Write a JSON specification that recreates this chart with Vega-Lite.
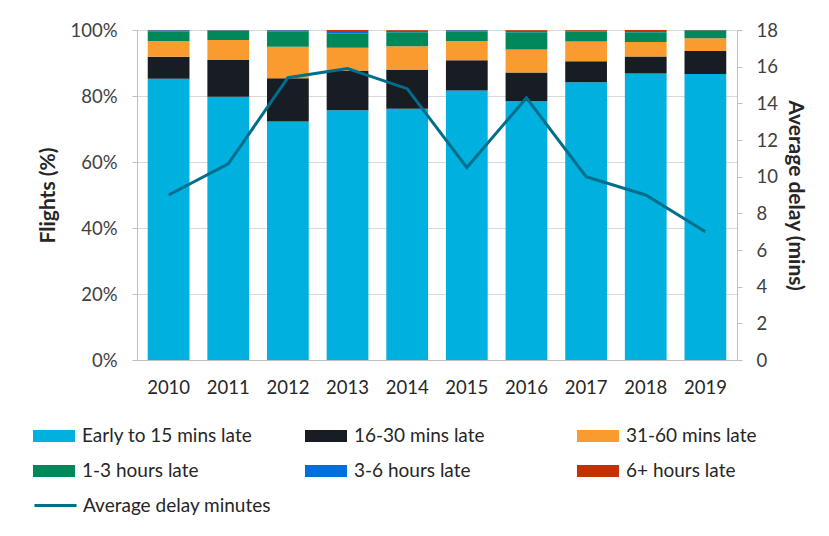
{
  "$schema": "https://vega.github.io/schema/vega-lite/v6.json",
  "width": 600,
  "height": 330,
  "autosize": "none",
  "padding": {"left": 137, "top": 30, "right": 92, "bottom": 176},
  "background": "white",
  "config": {
    "font": "Lato",
    "view": {"stroke": null},
    "axis": {
      "labelFont": "Lato",
      "labelFontSize": 18.5,
      "labelColor": "#404040",
      "titleFont": "Lato",
      "titleFontSize": 21,
      "titleFontWeight": "bold",
      "titleColor": "#262626",
      "domainColor": "#bfbfbf",
      "tickColor": "#bfbfbf",
      "gridColor": "#d9d9d9"
    }
  },
  "datasets": {
    "bars": [
      {"year": "2010", "cat": "Early to 15 mins late", "ord": 1, "pct": 85.2},
      {"year": "2010", "cat": "16-30 mins late", "ord": 2, "pct": 6.7},
      {"year": "2010", "cat": "31-60 mins late", "ord": 3, "pct": 4.8},
      {"year": "2010", "cat": "1-3 hours late", "ord": 4, "pct": 2.9},
      {"year": "2010", "cat": "3-6 hours late", "ord": 5, "pct": 0.3},
      {"year": "2010", "cat": "6+ hours late", "ord": 6, "pct": 0.1},
      {"year": "2011", "cat": "Early to 15 mins late", "ord": 1, "pct": 79.8},
      {"year": "2011", "cat": "16-30 mins late", "ord": 2, "pct": 11.1},
      {"year": "2011", "cat": "31-60 mins late", "ord": 3, "pct": 6.1},
      {"year": "2011", "cat": "1-3 hours late", "ord": 4, "pct": 2.8},
      {"year": "2011", "cat": "3-6 hours late", "ord": 5, "pct": 0.1},
      {"year": "2011", "cat": "6+ hours late", "ord": 6, "pct": 0.1},
      {"year": "2012", "cat": "Early to 15 mins late", "ord": 1, "pct": 72.3},
      {"year": "2012", "cat": "16-30 mins late", "ord": 2, "pct": 13.1},
      {"year": "2012", "cat": "31-60 mins late", "ord": 3, "pct": 9.5},
      {"year": "2012", "cat": "1-3 hours late", "ord": 4, "pct": 4.7},
      {"year": "2012", "cat": "3-6 hours late", "ord": 5, "pct": 0.3},
      {"year": "2012", "cat": "6+ hours late", "ord": 6, "pct": 0.1},
      {"year": "2013", "cat": "Early to 15 mins late", "ord": 1, "pct": 75.7},
      {"year": "2013", "cat": "16-30 mins late", "ord": 2, "pct": 11.9},
      {"year": "2013", "cat": "31-60 mins late", "ord": 3, "pct": 7.0},
      {"year": "2013", "cat": "1-3 hours late", "ord": 4, "pct": 4.4},
      {"year": "2013", "cat": "3-6 hours late", "ord": 5, "pct": 0.7},
      {"year": "2013", "cat": "6+ hours late", "ord": 6, "pct": 0.3},
      {"year": "2014", "cat": "Early to 15 mins late", "ord": 1, "pct": 76.1},
      {"year": "2014", "cat": "16-30 mins late", "ord": 2, "pct": 11.8},
      {"year": "2014", "cat": "31-60 mins late", "ord": 3, "pct": 7.2},
      {"year": "2014", "cat": "1-3 hours late", "ord": 4, "pct": 4.2},
      {"year": "2014", "cat": "3-6 hours late", "ord": 5, "pct": 0.5},
      {"year": "2014", "cat": "6+ hours late", "ord": 6, "pct": 0.2},
      {"year": "2015", "cat": "Early to 15 mins late", "ord": 1, "pct": 81.7},
      {"year": "2015", "cat": "16-30 mins late", "ord": 2, "pct": 9.1},
      {"year": "2015", "cat": "31-60 mins late", "ord": 3, "pct": 5.9},
      {"year": "2015", "cat": "1-3 hours late", "ord": 4, "pct": 2.9},
      {"year": "2015", "cat": "3-6 hours late", "ord": 5, "pct": 0.3},
      {"year": "2015", "cat": "6+ hours late", "ord": 6, "pct": 0.1},
      {"year": "2016", "cat": "Early to 15 mins late", "ord": 1, "pct": 78.4},
      {"year": "2016", "cat": "16-30 mins late", "ord": 2, "pct": 8.7},
      {"year": "2016", "cat": "31-60 mins late", "ord": 3, "pct": 7.0},
      {"year": "2016", "cat": "1-3 hours late", "ord": 4, "pct": 5.2},
      {"year": "2016", "cat": "3-6 hours late", "ord": 5, "pct": 0.5},
      {"year": "2016", "cat": "6+ hours late", "ord": 6, "pct": 0.2},
      {"year": "2017", "cat": "Early to 15 mins late", "ord": 1, "pct": 84.2},
      {"year": "2017", "cat": "16-30 mins late", "ord": 2, "pct": 6.3},
      {"year": "2017", "cat": "31-60 mins late", "ord": 3, "pct": 6.0},
      {"year": "2017", "cat": "1-3 hours late", "ord": 4, "pct": 3.0},
      {"year": "2017", "cat": "3-6 hours late", "ord": 5, "pct": 0.3},
      {"year": "2017", "cat": "6+ hours late", "ord": 6, "pct": 0.2},
      {"year": "2018", "cat": "Early to 15 mins late", "ord": 1, "pct": 86.8},
      {"year": "2018", "cat": "16-30 mins late", "ord": 2, "pct": 5.2},
      {"year": "2018", "cat": "31-60 mins late", "ord": 3, "pct": 4.4},
      {"year": "2018", "cat": "1-3 hours late", "ord": 4, "pct": 2.9},
      {"year": "2018", "cat": "3-6 hours late", "ord": 5, "pct": 0.4},
      {"year": "2018", "cat": "6+ hours late", "ord": 6, "pct": 0.3},
      {"year": "2019", "cat": "Early to 15 mins late", "ord": 1, "pct": 86.7},
      {"year": "2019", "cat": "16-30 mins late", "ord": 2, "pct": 6.9},
      {"year": "2019", "cat": "31-60 mins late", "ord": 3, "pct": 3.9},
      {"year": "2019", "cat": "1-3 hours late", "ord": 4, "pct": 2.4},
      {"year": "2019", "cat": "3-6 hours late", "ord": 5, "pct": 0.05},
      {"year": "2019", "cat": "6+ hours late", "ord": 6, "pct": 0.05}
    ],
    "delay": [
      {"year": "2010", "series": "Average delay minutes", "mins": 9.0},
      {"year": "2011", "series": "Average delay minutes", "mins": 10.7},
      {"year": "2012", "series": "Average delay minutes", "mins": 15.4},
      {"year": "2013", "series": "Average delay minutes", "mins": 15.9},
      {"year": "2014", "series": "Average delay minutes", "mins": 14.8},
      {"year": "2015", "series": "Average delay minutes", "mins": 10.5},
      {"year": "2016", "series": "Average delay minutes", "mins": 14.3},
      {"year": "2017", "series": "Average delay minutes", "mins": 10.0},
      {"year": "2018", "series": "Average delay minutes", "mins": 9.0},
      {"year": "2019", "series": "Average delay minutes", "mins": 7.0}
    ]
  },
  "encoding": {
    "x": {
      "field": "year",
      "type": "nominal",
      "scale": {"paddingInner": 0.3, "paddingOuter": 0.18},
      "axis": {"title": null, "labelAngle": 0, "ticks": false, "labelPadding": 18, "labelColor": "#262626", "domainColor": "#bfbfbf"}
    }
  },
  "layer": [
    {
      "data": {"name": "bars"},
      "mark": {"type": "bar"},
      "encoding": {
        "y": {
          "field": "pct",
          "type": "quantitative",
          "stack": "zero",
          "scale": {"domain": [0, 100], "nice": false},
          "axis": {
            "title": "Flights (%)",
            "values": [0, 20, 40, 60, 80, 100],
            "labelExpr": "datum.value + '%'",
            "tickSize": 5,
            "labelPadding": 15,
            "titlePadding": 11,
            "grid": true
          }
        },
        "color": {
          "field": "cat",
          "type": "nominal",
          "scale": {
            "domain": ["Early to 15 mins late", "16-30 mins late", "31-60 mins late", "1-3 hours late", "3-6 hours late", "6+ hours late"],
            "range": ["#00B0DE", "#181C23", "#F99B2F", "#00885A", "#0070DD", "#C43100"]
          },
          "legend": {
            "title": null,
            "orient": "none",
            "direction": "horizontal",
            "legendX": -104,
            "legendY": 385,
            "columns": 3,
            "gridAlign": "all",
            "columnPadding": 52,
            "rowPadding": 4,
            "symbolType": "M-1,-0.29H1V0.29H-1Z",
            "symbolSize": 1764,
            "symbolStrokeWidth": 0,
            "symbolOpacity": 1,
            "labelFont": "Lato",
            "labelFontSize": 19,
            "labelColor": "#262626",
            "labelOffset": 7,
            "labelLimit": 400
          }
        },
        "order": {"field": "ord", "type": "quantitative"}
      }
    },
    {
      "data": {"name": "delay"},
      "mark": {"type": "line", "strokeWidth": 3},
      "encoding": {
        "y": {
          "field": "mins",
          "type": "quantitative",
          "scale": {"domain": [0, 18], "nice": false},
          "axis": {
            "orient": "right",
            "title": "Average delay (mins)",
            "values": [0, 2, 4, 6, 8, 10, 12, 14, 16, 18],
            "tickSize": 5,
            "labelPadding": 14,
            "titlePadding": 7,
            "grid": false
          }
        },
        "stroke": {
          "field": "series",
          "type": "nominal",
          "scale": {"range": ["#006E8C"]},
          "legend": {
            "title": null,
            "orient": "none",
            "legendX": -104,
            "legendY": 453,
            "symbolType": "stroke",
            "symbolSize": 1764,
            "symbolStrokeWidth": 3,
            "labelFont": "Lato",
            "labelFontSize": 19,
            "labelColor": "#262626",
            "labelOffset": 5,
            "labelLimit": 400
          }
        }
      }
    }
  ],
  "resolve": {"scale": {"y": "independent"}}
}
